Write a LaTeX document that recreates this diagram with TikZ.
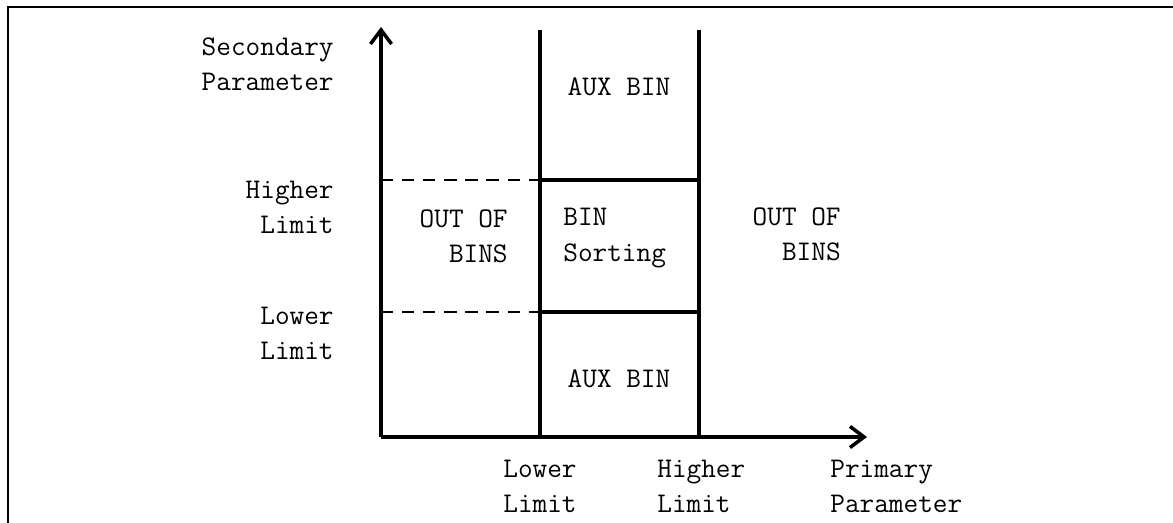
\documentclass[tikz,border=0pt]{standalone}
\usepackage{tikz}
\usetikzlibrary{arrows.meta}

\begin{document}
\begin{tikzpicture}[
    x=0.02cm, y=-0.02cm,
    every node/.style={font=\fontsize{16.2}{20}\ttfamily, inner sep=0pt},
    axis/.style={line width=2pt, -{Straight Barb[length=8pt, width=12pt, line width=2pt]}},
    limit/.style={line width=1.9pt},
    guide/.style={line width=1.2pt, dash pattern=on 7pt off 5pt},
    frame/.style={line width=1.4pt},
  ]
  \useasboundingbox (0,0) rectangle (1173,523);

  % frame of the page
  \coordinate (fbot) at (8,523);
  \coordinate (fcorner) at (8,7);
  \coordinate (fright) at (1173,7);
  \draw[frame] (fbot) -- (fcorner) -- (fright);

  % axes
  \coordinate (origin) at (381,437);
  \coordinate (ytip) at (381,27);
  \coordinate (xtip) at (867,437);
  \draw[axis] (origin) -- (ytip);
  \draw[axis] (origin) -- (xtip);

  % limits of the primary parameter
  \coordinate (plowtop) at (540,30);
  \coordinate (plowbot) at (540,437);
  \coordinate (phightop) at (699,30);
  \coordinate (phighbot) at (699,437);
  \draw[limit] (plowtop) -- (plowbot);
  \draw[limit] (phightop) -- (phighbot);

  % limits of the secondary parameter
  \coordinate (shighaxis) at (381,180);
  \coordinate (shighmid) at (540,180);
  \coordinate (shighend) at (699,180);
  \coordinate (slowaxis) at (381,312);
  \coordinate (slowmid) at (540,312);
  \coordinate (slowend) at (699,312);
  \draw[guide] (shighaxis) -- (shighmid);
  \draw[limit] (shighmid) -- (shighend);
  \draw[guide] (slowaxis) -- (slowmid);
  \draw[limit] (slowmid) -- (slowend);

  % axis labels
  \node[anchor=east, align=right] (secpar) at (334,64) {Secondary\\Parameter};
  \node[anchor=east, align=right] (shigh) at (334,207) {Higher\\Limit};
  \node[anchor=east, align=right] (slow) at (334,333) {Lower\\Limit};
  \node[anchor=west, align=left] (plow) at (503,486) {Lower\\Limit};
  \node[anchor=west, align=left] (phigh) at (657,486) {Higher\\Limit};
  \node[anchor=west, align=left] (primpar) at (830,486) {Primary\\Parameter};

  % regions
  \node[anchor=east, align=right] (outleft) at (508,236) {OUT OF\\BINS};
  \node[anchor=west, align=left] (binsort) at (563,238) {BIN\\Sorting};
  \node[anchor=east, align=right] (outright) at (841,234) {OUT OF\\BINS};
  \node (auxtop) at (619,87) {AUX BIN};
  \node (auxbot) at (619,379) {AUX BIN};
\end{tikzpicture}
\end{document}
